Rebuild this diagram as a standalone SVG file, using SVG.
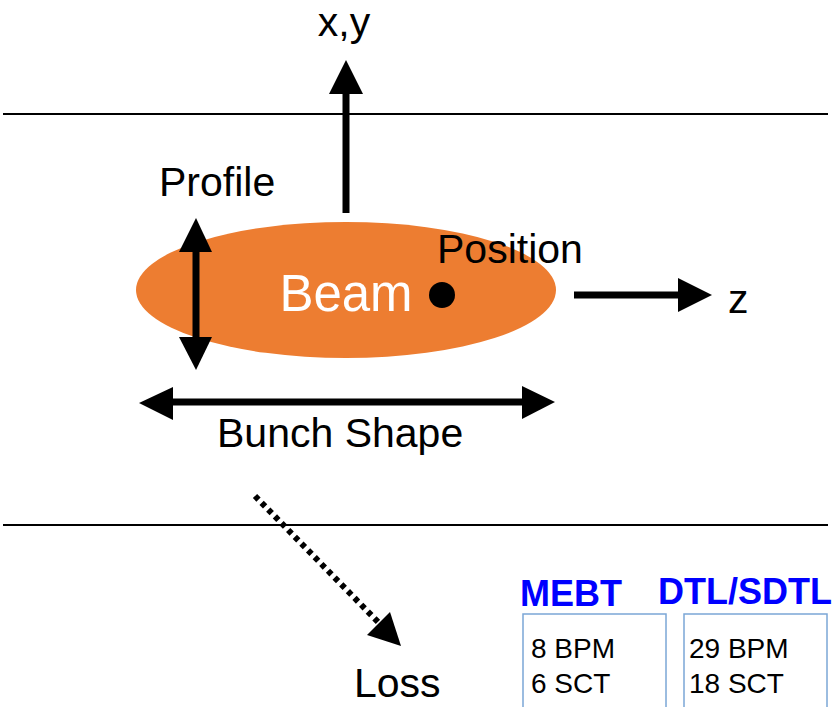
<svg xmlns="http://www.w3.org/2000/svg" width="833" height="707" viewBox="0 0 833 707">
<style>
text{font-family:"Liberation Sans",Arial,sans-serif;fill:#000}
.lbl{font-size:41px}
.hdr{font-size:36px;font-weight:bold;fill:#0000FF}
.cnt{font-size:28px}
.ar{stroke:#000;stroke-width:7;fill:none}
.hd{fill:#000}
.box{fill:none;stroke:#7BA7D6;stroke-width:1.5}
.wall{stroke:#000;stroke-width:2}
</style>
<rect width="833" height="707" fill="#fff"/>
<g id="walls">
<line class="wall" x1="3" y1="114" x2="828" y2="114"/>
<line class="wall" x1="3" y1="525" x2="828" y2="525"/>
</g>
<g id="beam">
<ellipse cx="346" cy="290" rx="210" ry="68" fill="#ED7D31"/>
<text x="346" y="311" font-size="51" text-anchor="middle" style="fill:#fff">Beam</text>
</g>
<g id="position">
<circle cx="442" cy="295" r="13" fill="#000"/>
<text class="lbl" x="437" y="263">Position</text>
</g>
<g id="profile">
<text class="lbl" x="159" y="196">Profile</text>
</g>
<g id="xy"><text class="lbl" x="344" y="36" text-anchor="middle">x,y</text></g>
<g id="z"><text class="lbl" x="728" y="313">z</text></g>
<g id="bunch"><text class="lbl" x="217" y="447">Bunch Shape</text></g>
<g id="loss"><text class="lbl" x="354" y="697" font-size="40">Loss</text></g>
<g id="connectors">
<line class="ar" x1="346" y1="213" x2="346" y2="90"/>
<polygon class="hd" points="346,60 329,94 363,94"/>
<line class="ar" x1="196" y1="248" x2="196" y2="340"/>
<polygon class="hd" points="196,218 179,252 212,252"/>
<polygon class="hd" points="196,370 179,337 212,337"/>
<line class="ar" x1="170" y1="402" x2="525" y2="402"/>
<polygon class="hd" points="139,403 173,387 173,420"/>
<polygon class="hd" points="555,402 522,386 522,419"/>
<line class="ar" x1="574" y1="295" x2="680" y2="295"/>
<polygon class="hd" points="712,295 678,278 678,312"/>
<line x1="255" y1="496" x2="378" y2="622" stroke="#000" stroke-width="6" stroke-dasharray="5 4.5"/>
<polygon class="hd" points="401,646 367,635 390,612"/>
</g>
<g id="mebt">
<text class="hdr" x="520" y="606">MEBT</text>
<rect class="box" x="523" y="614" width="143" height="100"/>
<text class="cnt" x="531" y="658">8 BPM</text>
<text class="cnt" x="531" y="693">6 SCT</text>
</g>
<g id="dtl">
<text class="hdr" x="658" y="604">DTL/SDTL</text>
<rect class="box" x="684" y="614" width="143" height="100"/>
<text class="cnt" x="689" y="658">29 BPM</text>
<text class="cnt" x="689" y="693">18 SCT</text>
</g>
</svg>
